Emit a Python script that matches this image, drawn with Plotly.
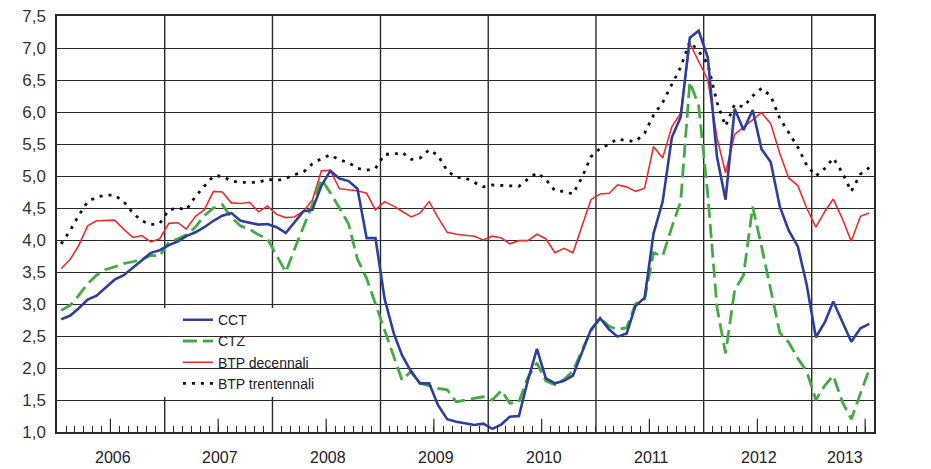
import pandas as pd
import plotly.graph_objects as go

# ---------------- data (monthly, Jan 2006 - Jul 2013) ----------------
months = pd.date_range("2006-01-01", "2013-07-01", freq="MS") + pd.Timedelta(days=14)

cct = [2.76, 2.82, 2.93, 3.07, 3.13, 3.25, 3.38, 3.45, 3.56, 3.68, 3.80, 3.84,
       3.92, 3.98, 4.06, 4.12, 4.20, 4.30, 4.38, 4.42, 4.30, 4.27, 4.24, 4.25,
       4.20, 4.11, 4.27, 4.45, 4.47, 4.85, 5.08, 4.96, 4.92, 4.80, 4.03, 4.03,
       3.08, 2.54, 2.20, 1.94, 1.76, 1.76, 1.42, 1.20, 1.16, 1.13, 1.11, 1.13,
       1.05, 1.12, 1.24, 1.25, 1.80, 2.30, 1.84, 1.76, 1.80, 1.88, 2.25, 2.60,
       2.78, 2.60, 2.49, 2.54, 2.97, 3.10, 4.10, 4.60, 5.60, 5.92, 7.16, 7.27,
       6.85, 5.30, 4.63, 6.05, 5.72, 6.03, 5.42, 5.22, 4.52, 4.15, 3.90, 3.30,
       2.48, 2.72, 3.04, 2.72, 2.41, 2.62, 2.69]

ctz = [2.90, 2.98, 3.13, 3.32, 3.45, 3.54, 3.58, 3.63, 3.66, 3.70, 3.76, 3.75,
       3.97, 4.02, 4.08, 4.20, 4.38, 4.50, 4.55, 4.35, 4.22, 4.17, 4.08, 4.02,
       3.76, 3.50, 3.85, 4.20, 4.55, 4.95, 4.74, 4.50, 4.25, 3.70, 3.40, 3.00,
       2.60, 2.20, 1.81, 1.95, 1.76, 1.72, 1.68, 1.66, 1.47, 1.50, 1.53, 1.55,
       1.50, 1.65, 1.45, 1.47, 1.85, 2.08, 1.80, 1.74, 1.82, 1.95, 2.28, 2.58,
       2.78, 2.65, 2.60, 2.63, 3.00, 3.08, 3.80, 3.75, 4.20, 4.60, 6.47, 6.10,
       4.70, 2.95, 2.23, 3.22, 3.45, 4.52, 3.90, 3.20, 2.55, 2.40, 2.15, 1.95,
       1.50, 1.73, 1.88, 1.47, 1.20, 1.60, 1.98]

btp10 = [3.55, 3.70, 3.91, 4.22, 4.30, 4.31, 4.31, 4.17, 4.04, 4.07, 3.97, 4.02,
         4.26, 4.27, 4.17, 4.37, 4.47, 4.76, 4.75, 4.58, 4.57, 4.59, 4.44, 4.53,
         4.40, 4.35, 4.36, 4.45, 4.62, 5.08, 5.09, 4.80, 4.78, 4.77, 4.73, 4.47,
         4.60, 4.53, 4.45, 4.36, 4.42, 4.60, 4.35, 4.12, 4.09, 4.08, 4.06, 4.00,
         4.06, 4.03, 3.94, 3.99, 3.99, 4.09, 4.02, 3.80, 3.87, 3.80, 4.22, 4.63,
         4.72, 4.73, 4.86, 4.83, 4.76, 4.81, 5.46, 5.28, 5.77, 5.98, 7.07, 6.80,
         6.50, 5.60, 5.05, 5.65, 5.76, 5.88, 5.99, 5.82, 5.35, 4.97, 4.85, 4.50,
         4.20, 4.45, 4.64, 4.33, 3.98, 4.37, 4.42]

btp30 = [3.94, 4.15, 4.38, 4.60, 4.67, 4.70, 4.70, 4.60, 4.42, 4.30, 4.24, 4.26,
         4.47, 4.50, 4.47, 4.68, 4.84, 5.00, 5.00, 4.92, 4.90, 4.90, 4.90, 4.95,
         4.93, 4.96, 5.02, 5.06, 5.19, 5.27, 5.33, 5.25, 5.21, 5.12, 5.09, 5.12,
         5.34, 5.34, 5.37, 5.26, 5.28, 5.41, 5.32, 5.08, 4.98, 4.97, 4.90, 4.83,
         4.86, 4.85, 4.85, 4.84, 4.95, 5.05, 4.95, 4.77, 4.76, 4.72, 4.98, 5.30,
         5.43, 5.50, 5.58, 5.55, 5.54, 5.67, 5.95, 6.15, 6.43, 6.70, 7.10, 6.95,
         6.75, 6.15, 5.78, 6.12, 6.08, 6.25, 6.37, 6.25, 5.90, 5.68, 5.45, 5.17,
         5.00, 5.12, 5.28, 5.05, 4.76, 5.03, 5.13]

years = [2006, 2007, 2008, 2009, 2010, 2011, 2012, 2013]
year_labels = [str(y) for y in years]

# ---------------- styling ----------------
FONT = "Arial, 'Liberation Sans', sans-serif"
GRID = "#2a2a2a"
x_start = pd.Timestamp("2006-01-01")
x_end = pd.Timestamp("2013-07-31")

fig = go.Figure()
fig.add_trace(go.Scatter(x=months, y=btp30, name="BTP trentennali", mode="lines",
                         line=dict(color="#111111", width=2.8, dash="3px,6px"),
                         legendrank=4))
fig.add_trace(go.Scatter(x=months, y=btp10, name="BTP decennali", mode="lines",
                         line=dict(color="#ee2b2b", width=1.6), legendrank=3))
fig.add_trace(go.Scatter(x=months, y=ctz, name="CTZ", mode="lines",
                         line=dict(color="#45aa45", width=2.8, dash="14px,6px"),
                         legendrank=2))
fig.add_trace(go.Scatter(x=months, y=cct, name="CCT", mode="lines",
                         line=dict(color="#2d3e9c", width=2.6), legendrank=1))

year_starts = [pd.Timestamp(f"{y}-01-01") for y in years[1:]]
month_starts = list(pd.date_range(x_start, x_end, freq="MS"))
july_ticks = [pd.Timestamp(f"{y}-07-01") for y in years]

shapes = []
# year boundary grid lines
for d in year_starts:
    shapes.append(dict(type="line", xref="x", yref="paper", x0=d, x1=d, y0=0, y1=1,
                       line=dict(color=GRID, width=1.4), layer="below"))
# taller mid-year ticks
for d in july_ticks:
    shapes.append(dict(type="line", xref="x", yref="paper", x0=d, x1=d, y0=0,
                       y1=0.032, line=dict(color=GRID, width=1.2), layer="above"))
# white legend box
shapes.append(dict(type="rect", xref="paper", yref="paper",
                   x0=0.1236, x1=0.350, y0=0.084, y1=0.298,
                   fillcolor="white", line=dict(width=0), layer="between"))

annotations = []
for y, lab in zip(years, year_labels):
    a = pd.Timestamp(f"{y}-01-01")
    b = min(pd.Timestamp(f"{y + 1}-01-01"), x_end)
    annotations.append(dict(x=a + (b - a) / 2 + pd.Timedelta(days=6), y=-0.062,
                            xref="x", yref="paper", text=lab, showarrow=False,
                            xanchor="center", yanchor="middle",
                            font=dict(family=FONT, size=16, color="#222222")))

fig.update_layout(
    template="none",
    width=931, height=469,
    margin=dict(l=57, r=57, t=16, b=37, autoexpand=False),
    paper_bgcolor="white", plot_bgcolor="white",
    separators=",.",
    font=dict(family=FONT, color="#222222"),
    showlegend=True,
    legend=dict(x=0.148, y=0.193, xanchor="left", yanchor="middle",
                bgcolor="rgba(0,0,0,0)", borderwidth=0,
                font=dict(family=FONT, size=14, color="#222222"),
                traceorder="normal", tracegroupgap=0, itemwidth=30),
    xaxis=dict(type="date", range=[x_start, x_end], autorange=False,
               automargin=False, tickmode="array", tickvals=month_starts,
               showticklabels=False, ticks="inside", ticklen=6, tickwidth=1.2,
               tickcolor=GRID, showgrid=False, zeroline=False, showline=True,
               mirror=True, linecolor=GRID, linewidth=1.5),
    yaxis=dict(range=[1, 7.5], autorange=False, automargin=False,
               tickmode="linear", tick0=1, dtick=0.5, tickformat=".1f",
               showgrid=True, gridcolor=GRID, gridwidth=1.4, showline=True,
               mirror=True, linecolor=GRID, linewidth=1.5, ticks="",
               zeroline=False, ticklabelstandoff=6,
               tickfont=dict(family=FONT, size=17, color="#333333")),
    yaxis2=dict(range=[1, 7.5], autorange=False, automargin=False,
                overlaying="y", side="right", anchor="x", tickmode="linear",
                tick0=1, dtick=0.5, tickformat=".1f", showgrid=False,
                ticks="", zeroline=False, showline=False,
                ticklabelstandoff=30,
                tickfont=dict(family=FONT, size=17, color="#333333")),
    shapes=shapes,
    annotations=annotations,
)

fig.write_html("out.html",
               config={"displayModeBar": False},
               post_script="document.body.style.margin='0';"
                           "document.body.style.overflow='hidden';")
